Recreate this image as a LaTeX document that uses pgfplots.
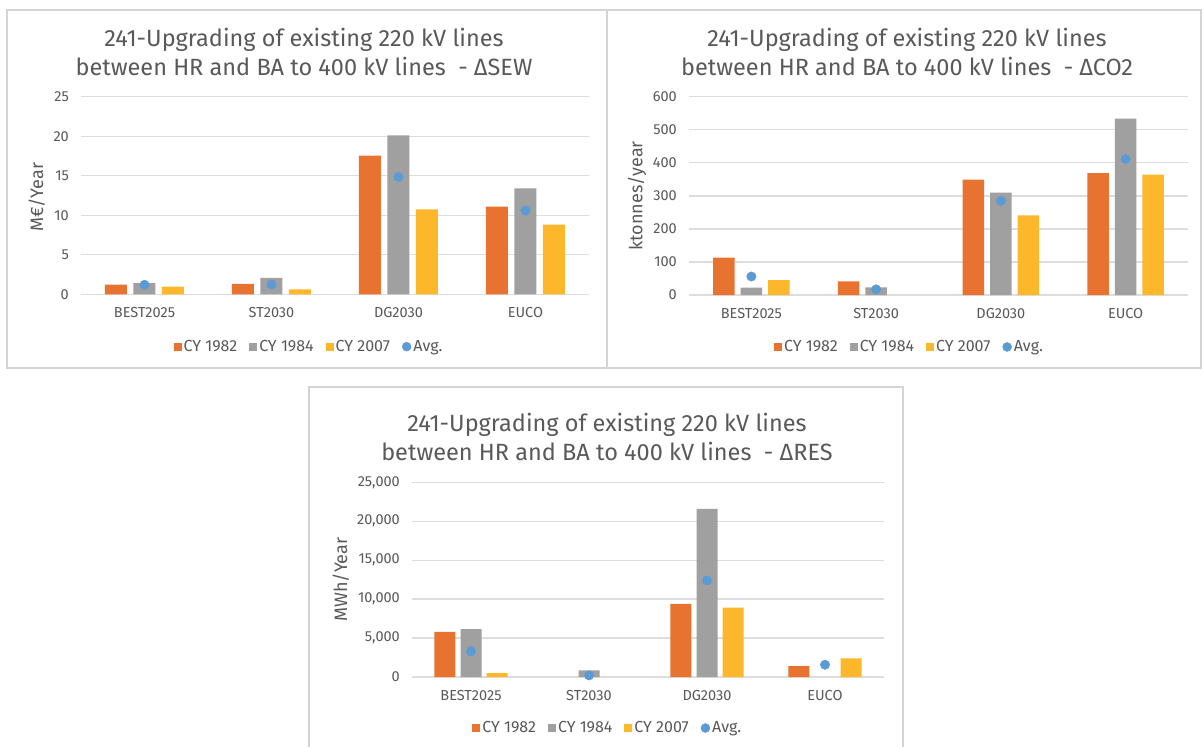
\documentclass[border=0pt]{standalone}
\usepackage{pgfplots}
\pgfplotsset{compat=1.18}
\usepackage{fontspec}
\setmainfont{Fira Sans}

\definecolor{corange}{HTML}{E8722F}
\definecolor{cgray}{HTML}{A0A0A0}
\definecolor{cyellow}{HTML}{FDB72A}
\definecolor{cblue}{HTML}{5B9BD5}
\definecolor{cgrid}{HTML}{DDDDDD}
\definecolor{ctext}{HTML}{595959}
\definecolor{cframe}{HTML}{D4D4D4}

\pgfplotsset{
  entso/.style={
    scale only axis,
    xmin=-0.5, xmax=3.5, ymin=0,
    xtick={0,1,2,3},
    xticklabels={BEST2025,ST2030,DG2030,EUCO},
    axis x line=bottom, axis y line=left,
    x axis line style={-, draw=cgrid, line width=1.3pt},
    y axis line style={draw=none},
    major tick length=0pt,
    ymajorgrids, major grid style={draw=cgrid, line width=1.3pt},
    tick label style={font=\fontsize{14.5}{16}\selectfont, text=ctext},
    yticklabel style={inner sep=0pt, xshift=-12pt},
    xticklabel style={inner sep=0pt, anchor=center, yshift=-18.5pt},
    ylabel style={anchor=center, font=\fontsize{18}{20}\selectfont, text=ctext},
    /pgf/number format/assume math mode=true,
    scaled y ticks=false,
    clip=false,
    legend columns=4,
    legend style={draw=none, fill=none, anchor=center,
      font=\fontsize{16}{18}\selectfont, text=ctext,
      /tikz/every even column/.append style={column sep=10pt}},
    legend cell align=left,
  },
  cybar/.style={ybar, draw=none, fill=#1,
    legend image code/.code={\fill[#1] (0pt,-4pt) rectangle (8pt,4pt);}},
  avgmark/.style={only marks, mark=*, mark size=4.7pt, color=cblue,
    mark options={draw=none, fill=cblue},
    legend image code/.code={\fill[cblue] (4.5pt,0pt) circle (4.5pt);}},
}

\begin{document}
\begin{tikzpicture}
\fill[white] (0,0) rectangle (1203pt,-747pt);
\path[use as bounding box] (0,0) rectangle (1203pt,-747pt);

% panel frames
\draw[cframe, line width=1.5pt] (7pt,-10pt) rectangle (607pt,-368pt);
\draw[cframe, line width=1.5pt] (607pt,-10pt) rectangle (1201pt,-368pt);
\draw[cframe, line width=1.5pt] (309pt,-387pt) rectangle (903pt,-748pt);

% titles
\node[align=center, text=ctext, font=\fontsize{23.5}{28.7}\selectfont] at (304pt,-52pt)
  {241-Upgrading of existing 220 kV lines\\between HR and BA to 400 kV lines~~- ΔSEW};
\node[align=center, text=ctext, font=\fontsize{23.5}{28.7}\selectfont] at (907pt,-52pt)
  {241-Upgrading of existing 220 kV lines\\between HR and BA to 400 kV lines~~- ΔCO2};
\node[align=center, text=ctext, font=\fontsize{23.5}{28.7}\selectfont] at (607pt,-437pt)
  {241-Upgrading of existing 220 kV lines\\between HR and BA to 400 kV lines~~- ΔRES};

% SEW
\begin{axis}[entso, at={(81pt,-294.3pt)}, anchor=south west,
  width=508pt, height=197.6pt, ymax=25, ytick={0,5,...,25},
  ylabel={M€/Year}, ylabel style={at={(rel axis cs:-0.087,0.49)}},
  legend style={at={(rel axis cs:0.449,-0.265)}}]
\addplot[cybar=corange, bar width=22pt, bar shift=-28.5pt] coordinates {(0,1.22) (1,1.31) (2,17.55) (3,11.1)};
\addplot[cybar=cgray, bar width=22pt, bar shift=0pt] coordinates {(0,1.43) (1,2.07) (2,20.1) (3,13.4)};
\addplot[cybar=cyellow, bar width=22pt, bar shift=28.5pt] coordinates {(0,0.97) (1,0.63) (2,10.76) (3,8.82)};
\addplot[avgmark] coordinates {(0,1.2) (1,1.25) (2,14.85) (3,10.6)};
\legend{CY 1982, CY 1984, CY 2007, Avg.}
\end{axis}

% CO2
\begin{axis}[entso, at={(689pt,-295pt)}, anchor=south west,
  width=499pt, height=198.3pt, ymax=600, ytick={0,100,...,600},
  ylabel={ktonnes/year}, ylabel style={at={(rel axis cs:-0.104,0.5)}},
  legend style={at={(rel axis cs:0.442,-0.262)}}]
\addplot[cybar=corange, bar width=21.7pt, bar shift=-27.5pt] coordinates {(0,113) (1,41) (2,349) (3,369)};
\addplot[cybar=cgray, bar width=21.7pt, bar shift=0pt] coordinates {(0,22) (1,23) (2,310) (3,534)};
\addplot[cybar=cyellow, bar width=21.7pt, bar shift=27.5pt] coordinates {(0,45) (2,241) (3,364)};
\addplot[avgmark] coordinates {(0,56) (1,17) (2,285) (3,411)};
\legend{CY 1982, CY 1984, CY 2007, Avg.}
\end{axis}

% RES
\begin{axis}[entso, at={(412pt,-677pt)}, anchor=south west,
  width=472pt, height=194.7pt, ymax=25000, ytick={0,5000,...,25000},
  /pgf/number format/1000 sep={,},
  ylabel={MWh/Year}, ylabel style={at={(rel axis cs:-0.151,0.5)}},
  legend style={at={(rel axis cs:0.415,-0.262)}}]
\addplot[cybar=corange, bar width=21pt, bar shift=-26.2pt] coordinates {(0,5780) (2,9380) (3,1410)};
\addplot[cybar=cgray, bar width=21pt, bar shift=0pt] coordinates {(0,6160) (1,860) (2,21580)};
\addplot[cybar=cyellow, bar width=21pt, bar shift=26.2pt] coordinates {(0,510) (2,8900) (3,2400)};
\addplot[avgmark] coordinates {(0,3300) (1,210) (2,12410) (3,1580)};
\legend{CY 1982, CY 1984, CY 2007, Avg.}
\end{axis}
\end{tikzpicture}
\end{document}
